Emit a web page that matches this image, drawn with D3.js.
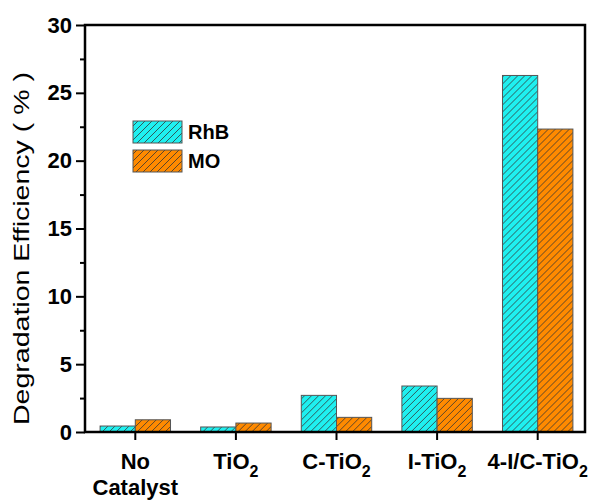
<!DOCTYPE html>
<html>
<head>
<meta charset="utf-8">
<script src="https://cdn.jsdelivr.net/npm/d3@7"></script>
<style>
  html, body { margin: 0; padding: 0; background: #fff; }
  svg { display: block; font-family: "Liberation Sans", Arial, sans-serif; }
</style>
</head>
<body>
<svg id="chart" width="592" height="500"></svg>
<script>
// Catalysts along the x axis
const categories = ["No Catalyst", "TiO2", "C-TiO2", "I-TiO2", "4-I/C-TiO2"];
const seriesNames = ["RhB", "MO"];
const rhbValues = [0.44, 0.37, 2.70, 3.39, 26.28];
const moValues = [0.90, 0.66, 1.08, 2.48, 22.33];
const yTicks = [0, 5, 10, 15, 20, 25, 30];
const yMinorTicks = [2.5, 7.5, 12.5, 17.5, 22.5, 27.5];
const seriesColors = ["#1ff0f0", "#ff8a00"];

const svg = d3.select("#chart");
const margin = { left: 85, right: 7, top: 25, bottom: 68 };
const W = 592, H = 500;
const x0 = margin.left, x1 = W - margin.right;
const y0 = H - margin.bottom, y1 = margin.top;

const x = d3.scaleBand().domain(categories).range([x0, x1 + 3]).paddingInner(0.3).paddingOuter(0.15);
const xs = d3.scaleBand().domain(seriesNames).range([0, x.bandwidth()]);
const y = d3.scaleLinear().domain([0, 30]).range([y0, y1]);

// Diagonal hatch patterns
const defs = svg.append("defs");
seriesNames.forEach((name, i) => {
  const p = defs.append("pattern")
    .attr("id", "hatch" + i)
    .attr("patternUnits", "userSpaceOnUse")
    .attr("width", 7).attr("height", 7);
  p.append("rect").attr("width", 7).attr("height", 7).attr("fill", seriesColors[i]);
  p.append("path")
    .attr("d", "M-1,1 l2,-2 M0,7 l7,-7 M6,8 l2,-2")
    .attr("stroke", "#333").attr("stroke-width", 0.8);
});

const data = categories.map((c, i) => ({ cat: c, vals: [rhbValues[i], moValues[i]] }));

// Bars
svg.append("g").selectAll("g")
  .data(data).join("g")
  .attr("transform", d => `translate(${x(d.cat)},0)`)
  .selectAll("rect")
  .data(d => d.vals.map((v, i) => ({ v, i })))
  .join("rect")
  .attr("x", d => xs(seriesNames[d.i]))
  .attr("y", d => y(d.v))
  .attr("width", xs.bandwidth())
  .attr("height", d => y(0) - y(d.v))
  .attr("fill", d => `url(#hatch${d.i})`)
  .attr("stroke", "#555").attr("stroke-width", 1);

// Frame
svg.append("rect")
  .attr("x", x0).attr("y", y1)
  .attr("width", x1 - x0).attr("height", y0 - y1)
  .attr("fill", "none").attr("stroke", "#000").attr("stroke-width", 2.5);

// Y axis
const yAxis = d3.axisLeft(y).tickValues(yTicks).tickSize(9).tickPadding(4);
const gy = svg.append("g").attr("transform", `translate(${x0},0)`).call(yAxis);
gy.select(".domain").remove();
gy.selectAll(".tick line").attr("stroke-width", 2);
gy.selectAll(".tick text")
  .attr("font-size", 22).attr("font-weight", "bold")
  .attr("font-family", "'Liberation Sans', Arial, sans-serif").attr("fill", "#000");
const yMinor = d3.axisLeft(y).tickValues(yMinorTicks).tickSize(5).tickFormat("");
const gym = svg.append("g").attr("transform", `translate(${x0},0)`).call(yMinor);
gym.select(".domain").remove();
gym.selectAll(".tick line").attr("stroke-width", 2);

// X axis
const xAxis = d3.axisBottom(x).tickSize(8).tickFormat("");
const gx = svg.append("g").attr("transform", `translate(0,${y0})`).call(xAxis);
gx.select(".domain").remove();
gx.selectAll(".tick line").attr("stroke-width", 2);

// X labels with subscripts
const labelParts = {
  "No Catalyst": [["No", ""], ["Catalyst", ""]],
  "TiO2": [["TiO", "2"]],
  "C-TiO2": [["C-TiO", "2"]],
  "I-TiO2": [["I-TiO", "2"]],
  "4-I/C-TiO2": [["4-I/C-TiO", "2"]]
};
const lbl = svg.append("g")
  .attr("font-size", 22).attr("font-weight", "bold").attr("fill", "#000");
categories.forEach(c => {
  const cx = x(c) + x.bandwidth() / 2;
  labelParts[c].forEach((line, li) => {
    const t = lbl.append("text")
      .attr("x", cx).attr("y", y0 + 37 + li * 26)
      .attr("text-anchor", "middle");
    t.append("tspan").text(line[0]);
    if (line[1]) {
      t.append("tspan").attr("dy", 8).attr("font-size", 16).text(line[1]);
    }
  });
});

// Y axis title
svg.append("text")
  .attr("transform", `translate(29,${(72 + 425) / 2}) rotate(-90)`)
  .attr("text-anchor", "middle")
  .attr("font-size", 22).attr("fill", "#000")
  .attr("textLength", 353).attr("lengthAdjust", "spacingAndGlyphs")
  .text("Degradation Efficiency ( % )");

// Legend
const legend = svg.append("g");
seriesNames.forEach((name, i) => {
  legend.append("rect")
    .attr("x", 133).attr("y", 121 + i * 29)
    .attr("width", 49).attr("height", 22)
    .attr("fill", `url(#hatch${i})`).attr("stroke", "#555").attr("stroke-width", 1);
  legend.append("text")
    .attr("x", 188).attr("y", 139 + i * 29)
    .attr("font-size", 20).attr("font-weight", "bold").attr("fill", "#000")
    .text(name);
});
</script>
</body>
</html>
